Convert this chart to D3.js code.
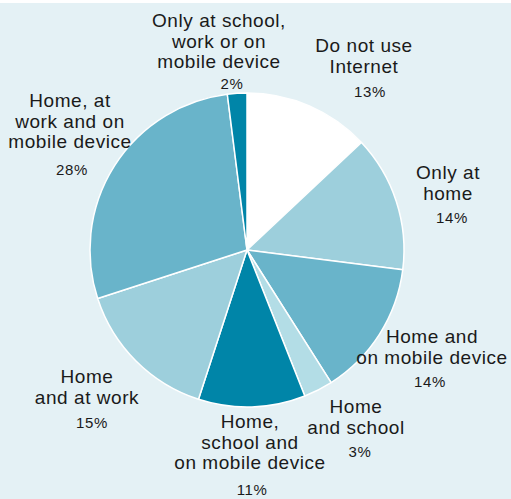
<!DOCTYPE html>
<html>
<head>
<meta charset="utf-8">
<script src="https://cdn.jsdelivr.net/npm/d3@7"></script>
<style>
  body { margin: 0; background: #ffffff; }
  svg { display: block; }
  .label { font-family: "Liberation Sans", Arial, sans-serif; font-size: 19px; fill: #1a1a1a; letter-spacing: 0.55px; }
  .pct { font-family: "Liberation Sans", Arial, sans-serif; font-size: 15px; fill: #1a1a1a; letter-spacing: 0.6px; }
</style>
</head>
<body>
<svg width="511" height="499"></svg>
<script>
  // slices go clockwise from 12 o'clock
  const categories = [
    'Do not use\nInternet',
    'Only at\nhome',
    'Home and\non mobile device',
    'Home\nand school',
    'Home,\nschool and\non mobile device',
    'Home\nand at work',
    'Home, at\nwork and on\nmobile device',
    'Only at school,\nwork or on\nmobile device'
  ];
  const values = [13, 14, 14, 3, 11, 15, 28, 2];
  const colors = ['#ffffff', '#9dcfdc', '#69b4ca', '#b3dde6', '#0085a8', '#9dcfdc', '#69b4ca', '#0085a8'];

  // label placement: [text x, first baseline, percent x, percent baseline]
  const labelLayout = [
    [364, 52, 370, 97],
    [448, 179, 452, 223],
    [432, 343, 430, 387],
    [356, 413, 360, 457],
    [250, 428, 252, 495],
    [87, 383, 92, 428],
    [70, 107, 72, 175],
    [219, 27, 232, 89]
  ];

  const svg = d3.select('svg');
  const width = +svg.attr('width');
  const height = +svg.attr('height');
  const lineHeight = 20.7;

  svg.append('rect')
    .attr('width', width)
    .attr('height', height)
    .attr('fill', '#e4f1f5');
  svg.append('rect')
    .attr('width', width)
    .attr('height', 3)
    .attr('fill', '#ffffff');

  const cx = 247, cy = 250, radius = 157;

  const pie = d3.pie().sort(null).value(d => d.value);
  const arc = d3.arc().innerRadius(0).outerRadius(radius);

  const data = categories.map((c, i) => ({ name: c, value: values[i], color: colors[i] }));

  const g = svg.append('g')
    .attr('transform', `translate(${cx},${cy})`);

  g.selectAll('path').data(pie(data))
    .enter().append('path')
      .attr('d', arc)
      .attr('fill', d => d.data.color)
      .attr('stroke', '#ffffff')
      .attr('stroke-width', 1.5)
      .attr('stroke-linejoin', 'round');

  const labels = svg.selectAll('g.lbl').data(data)
    .enter().append('g')
      .attr('class', 'lbl');

  labels.each(function (d, i) {
    const [tx, ty, px, py] = labelLayout[i];
    const sel = d3.select(this);
    d.name.split('\n').forEach((line, j) => {
      sel.append('text')
        .attr('class', 'label')
        .attr('x', tx)
        .attr('y', ty + j * lineHeight)
        .attr('text-anchor', 'middle')
        .text(line);
    });
    sel.append('text')
      .attr('class', 'pct')
      .attr('x', px)
      .attr('y', py)
      .attr('text-anchor', 'middle')
      .text(d.value + '%');
  });
</script>
</body>
</html>
